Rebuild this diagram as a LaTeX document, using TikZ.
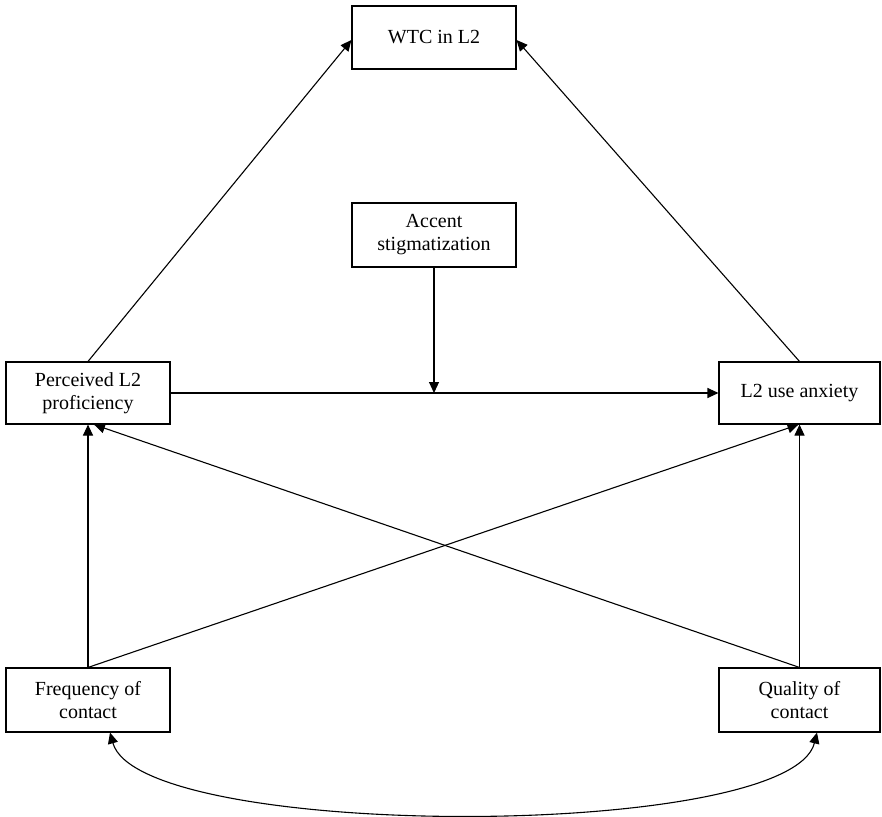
\documentclass[tikz,border=0pt]{standalone}
\usepackage{fontspec}
\setmainfont{Liberation Serif}
\usetikzlibrary{arrows.meta}
\begin{document}
\begin{tikzpicture}[x=1pt,y=-1pt,
  box/.style={draw, line width=1.1pt, align=center, inner sep=2pt,
    font=\fontsize{20}{23}\selectfont},
  arr/.style={line width=1.1pt, -{Triangle[length=11pt,width=10pt]}},
  darr/.style={line width=1.1pt, {Triangle[length=11pt,width=10pt]}-{Triangle[length=11pt,width=10pt]}}]
\useasboundingbox (0,0) rectangle (882,816);
\node[box, minimum width=164pt, minimum height=63pt] (wtc) at (434,37.5) {WTC in L2};
\node[box, minimum width=164pt, minimum height=64pt] (acc) at (434,235) {Accent\\stigmatization};
\node[box, minimum width=164pt, minimum height=62pt] (perc) at (88,393) {Perceived L2\\proficiency};
\node[box, minimum width=161pt, minimum height=62pt] (anx) at (799.5,393) {L2 use anxiety};
\node[box, minimum width=164pt, minimum height=64pt] (freq) at (88,700) {Frequency of\\contact};
\node[box, minimum width=161pt, minimum height=64pt] (qual) at (799.5,700) {Quality of\\contact};
\coordinate (mid) at (acc.south |- perc.east);
\draw[arr] (perc.north) -- ([yshift=-2.5pt]wtc.west);
\draw[arr] (anx.north) -- ([yshift=-2.5pt]wtc.east);
\draw[arr] (perc.east) -- (anx.west);
\draw[arr] (acc.south) -- (mid);
\draw[arr] (freq.north) -- (perc.south);
\draw[arr] (freq.north) -- ([xshift=-1pt]anx.south);
\draw[arr] (qual.north) -- ([xshift=6pt]perc.south);
\draw[arr] (qual.north) -- (anx.south);
\coordinate (cl) at ([xshift=22pt]freq.south);
\coordinate (cr) at ([xshift=17.5pt]qual.south);
\draw[darr] (cl) .. controls (140,841) and (790,841) .. (cr);
\end{tikzpicture}
\end{document}
